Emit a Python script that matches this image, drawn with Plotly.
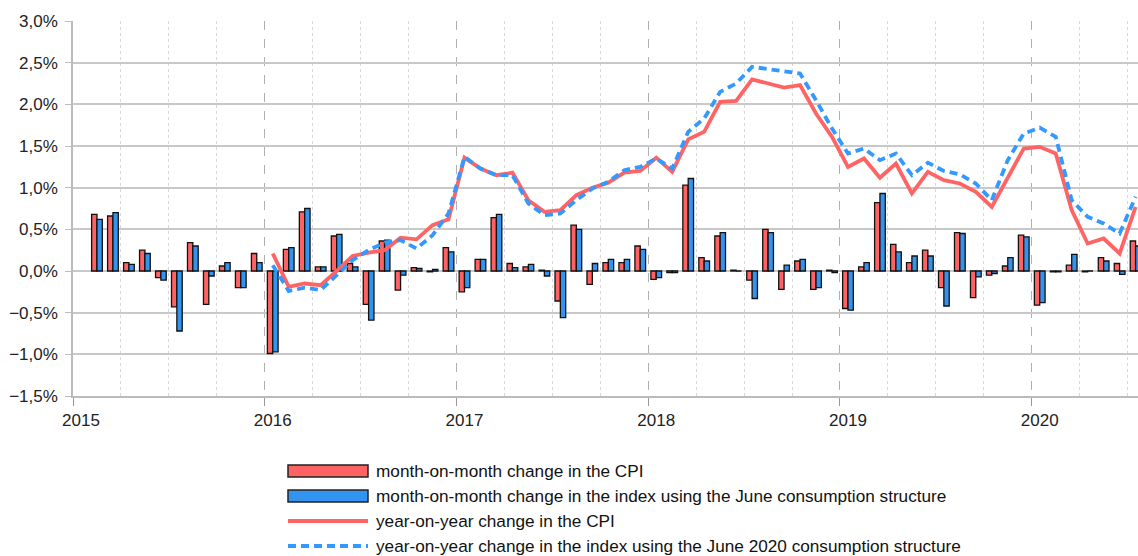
import plotly.graph_objects as go

# ---------------- data ----------------
years = [2015, 2016, 2017, 2018, 2019, 2020]
months = [f"{y}-{m:02d}" for y in years for m in range(1, 13)][:67]  # Jan 2015 .. Jul 2020
year_labels = [str(y) for y in years]

mom_cpi = [None, 0.68, 0.66, 0.10, 0.25, -0.08, -0.43, 0.34, -0.40, 0.06, -0.20, 0.21,
           -0.99, 0.26, 0.71, 0.05, 0.42, 0.09, -0.40, 0.36, -0.23, 0.04, -0.01, 0.28,
           -0.25, 0.14, 0.64, 0.09, 0.05, 0.01, -0.36, 0.55, -0.16, 0.10, 0.10, 0.30,
           -0.10, -0.02, 1.03, 0.16, 0.42, 0.01, -0.11, 0.50, -0.22, 0.12, -0.22, 0.01,
           -0.45, 0.05, 0.82, 0.32, 0.10, 0.25, -0.20, 0.46, -0.32, -0.05, 0.06, 0.43,
           -0.41, -0.01, 0.07, -0.01, 0.16, 0.09, 0.36]

mom_june = [None, 0.62, 0.70, 0.08, 0.21, -0.11, -0.72, 0.30, -0.06, 0.10, -0.20, 0.10,
            -0.97, 0.28, 0.75, 0.05, 0.44, 0.05, -0.59, 0.37, -0.05, 0.03, 0.02, 0.23,
            -0.20, 0.14, 0.68, 0.04, 0.08, -0.06, -0.56, 0.50, 0.09, 0.14, 0.14, 0.26,
            -0.08, -0.02, 1.11, 0.12, 0.46, 0.00, -0.33, 0.46, 0.07, 0.14, -0.20, -0.02,
            -0.47, 0.10, 0.93, 0.23, 0.18, 0.18, -0.42, 0.45, -0.07, -0.03, 0.16, 0.41,
            -0.38, -0.01, 0.20, 0.00, 0.12, -0.04, 0.30]

yoy_cpi = [None] * 12 + [
    0.21, -0.19, -0.15, -0.17, 0.00, 0.18, 0.22, 0.25, 0.40, 0.38, 0.55, 0.62,
    1.36, 1.23, 1.15, 1.18, 0.85, 0.71, 0.73, 0.91, 1.00, 1.06, 1.18, 1.20,
    1.36, 1.19, 1.58, 1.67, 2.03, 2.04, 2.30, 2.25, 2.20, 2.23, 1.89, 1.61,
    1.25, 1.35, 1.12, 1.29, 0.93, 1.19, 1.09, 1.05, 0.95, 0.77, 1.13, 1.47,
    1.49, 1.41, 0.73, 0.33, 0.39, 0.21, 0.77]

yoy_june = [None] * 12 + [
    0.07, -0.24, -0.20, -0.23, -0.05, 0.13, 0.25, 0.34, 0.37, 0.27, 0.43, 0.69,
    1.37, 1.23, 1.15, 1.15, 0.81, 0.67, 0.69, 0.85, 0.99, 1.07, 1.21, 1.25,
    1.35, 1.23, 1.67, 1.83, 2.15, 2.25, 2.45, 2.42, 2.40, 2.37, 2.05, 1.71,
    1.41, 1.47, 1.33, 1.41, 1.15, 1.30, 1.20, 1.16, 1.05, 0.85, 1.33, 1.65,
    1.72, 1.61, 0.85, 0.65, 0.57, 0.45, 0.89]

series_names = [
    "month-on-month change in the CPI",
    "month-on-month change in the index using the June consumption structure",
    "year-on-year change in the CPI",
    "year-on-year change in the index using the June 2020 consumption structure",
]

RED_BAR = "#FF6262"
BLUE_BAR = "#3394F0"
RED_LINE = "#FF6464"
BLUE_LINE = "#3399FF"
FONT = "Liberation Sans, Arial, sans-serif"

x = list(range(len(months)))

fig = go.Figure()
fig.add_trace(go.Bar(x=x, y=mom_cpi, name=series_names[0], marker=dict(color=RED_BAR, line=dict(color="#111", width=1.3))))
fig.add_trace(go.Bar(x=x, y=mom_june, name=series_names[1], marker=dict(color=BLUE_BAR, line=dict(color="#111", width=1.3))))
fig.add_trace(go.Scatter(x=x, y=yoy_cpi, name=series_names[2], mode="lines", line=dict(color=RED_LINE, width=3.8)))
fig.add_trace(go.Scatter(x=x, y=yoy_june, name=series_names[3], mode="lines", line=dict(color=BLUE_LINE, width=3.8, dash="8px,5px")))

year_pos = [x[months.index(f"{y}-01")] - 0.5 for y in years]
quarter_pos = [i - 0.5 for i in x if (i % 3 == 0 and i % 12 != 0)]

L, R, T, B = 73, 0, 21, 160
W, H = 1138, 556
pw, ph = W - L - R, H - T - B

fig.update_layout(
    width=W, height=H,
    margin=dict(l=L, r=R, t=T, b=B),
    plot_bgcolor="white", paper_bgcolor="white",
    barmode="group", bargap=0.33, bargroupgap=0,
    showlegend=False,
    separators=", ",
    font=dict(family=FONT, size=17, color="#222"),
    xaxis=dict(
        range=[-0.5, 66.15], tickmode="array", tickvals=year_pos, ticktext=year_labels,
        ticks="outside", ticklen=8, tickcolor="#999", ticklabelshift=8,
        showgrid=True, gridcolor="#b0b0b0", griddash="dash", gridwidth=1,
        minor=dict(tickmode="array", tickvals=quarter_pos, showgrid=True, gridcolor="#d8d8d8", griddash="dot", gridwidth=1, ticks=""),
        showline=True, linecolor="#bbb", linewidth=1.5, zeroline=False,
        tickfont=dict(size=17, color="#222"),
    ),
    yaxis=dict(
        range=[-1.5, 3.0], dtick=0.5, tick0=0, tickformat=".1f", ticksuffix="%",
        ticks="outside", ticklen=6, tickcolor="#bbb", ticklabelstandoff=4,
        showgrid=True, gridcolor="#c8c8c8", gridwidth=1.5,
        showline=True, linecolor="#bbb", linewidth=1.5, zeroline=False,
        tickfont=dict(size=17, color="#222"),
    ),
)

# ---------------- manual legend ----------------
def px_x(p):
    return (p - L) / pw

def px_y(p):
    return (H - B - p) / ph

rows = [471, 496, 521, 546]
sx0, sx1, tx = 288, 368, 374
shapes = []
shapes.append(dict(type="rect", xref="paper", yref="paper", x0=px_x(sx0), x1=px_x(sx1), y0=px_y(rows[0] + 6), y1=px_y(rows[0] - 6),
                   fillcolor=RED_BAR, line=dict(color="#222", width=1.5)))
shapes.append(dict(type="rect", xref="paper", yref="paper", x0=px_x(sx0), x1=px_x(sx1), y0=px_y(rows[1] + 6), y1=px_y(rows[1] - 6),
                   fillcolor=BLUE_BAR, line=dict(color="#222", width=1.5)))
shapes.append(dict(type="line", xref="paper", yref="paper", x0=px_x(sx0), x1=px_x(sx1), y0=px_y(rows[2]), y1=px_y(rows[2]),
                   line=dict(color=RED_LINE, width=3.8)))
shapes.append(dict(type="line", xref="paper", yref="paper", x0=px_x(sx0), x1=px_x(sx1), y0=px_y(rows[3]), y1=px_y(rows[3]),
                   line=dict(color=BLUE_LINE, width=3.8, dash="8px,5px")))
fig.update_layout(shapes=shapes)

for r, name in zip(rows, series_names):
    fig.add_annotation(xref="paper", yref="paper", x=px_x(tx), y=px_y(r), text=name, showarrow=False,
                       xanchor="left", yanchor="middle", font=dict(family=FONT, size=17.2, color="#111"))

fig.write_html("out.html", config={"displayModeBar": False}, post_script="document.body.style.margin='0';")
